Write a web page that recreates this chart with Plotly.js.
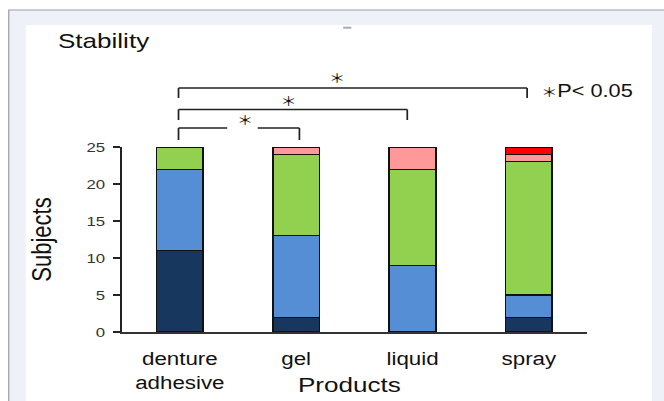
<!DOCTYPE html>
<html>
<head>
<meta charset="utf-8">
<script src="https://cdn.plot.ly/plotly-3.0.1.min.js"></script>
<style>
html,body{margin:0;padding:0;background:#fff;overflow:hidden;}
#wrap{width:664px;height:401px;overflow:hidden;position:relative;}
#plot{width:535px;height:401px;transform:scaleX(1.2411);transform-origin:0 0;}
</style>
</head>
<body>
<div id="wrap"><div id="plot"></div></div>
<script>
// Data
var products = ["denture<br>adhesive", "gel", "liquid", "spray"];
var level1 = [11, 2, 0, 2];
var level2 = [11, 11, 9, 3];
var level3 = [3, 11, 13, 18];
var level4 = [0, 1, 3, 1];
var level5 = [0, 0, 0, 1];
var yTicks = [0, 5, 10, 15, 20, 25];
var seriesNames = ["Level 1", "Level 2", "Level 3", "Level 4", "Level 5"];
var seriesColors = ["#17375E", "#558ED5", "#92D050", "#FF9999", "#FF0000"];
var seriesValues = [level1, level2, level3, level4, level5];

var FONT = "Liberation Sans, Arial, sans-serif";
var STARFONT = "Noto Sans CJK JP, DejaVu Sans";

var traces = seriesValues.map(function (vals, i) {
  return {
    type: "bar",
    x: products,
    y: vals,
    name: seriesNames[i],
    width: 0.4,
    marker: {color: seriesColors[i], line: {color: "#111", width: 1.3}},
    showlegend: false,
    hoverinfo: "none"
  };
});

function hline(x0, x1, y) {
  return {type: "line", xref: "x", yref: "paper", x0: x0, x1: x1, y0: y, y1: y,
          line: {color: "#222", width: 1.4}};
}
function vline(x, y0, y1) {
  return {type: "line", xref: "x", yref: "paper", x0: x, x1: x, y0: y0, y1: y1,
          line: {color: "#222", width: 1.4}};
}

var shapes = [
  {type: "rect", xref: "paper", yref: "paper", x0: -0.2425, x1: 1.3, y0: 1.7405, y1: -0.5,
   fillcolor: "#EFF1F8", line: {color: "#9C9CA4", width: 1}, layer: "below"},
  {type: "rect", xref: "paper", yref: "paper", x0: -0.206, x1: 1.1395, y0: 1.6595, y1: -0.6,
   fillcolor: "#FFFFFF", line: {width: 0}, layer: "below"},
  {type: "line", xref: "paper", yref: "paper", x0: 0.476, x1: 0.4936, y0: 1.645, y1: 1.645,
   line: {color: "#A8AAB8", width: 2}, layer: "below"},
  // top bracket
  hline(-0.011, 2.985, 1.3189), vline(-0.011, 1.3189, 1.2649), vline(2.985, 1.3189, 1.2649),
  // middle bracket
  hline(-0.011, 1.955, 1.2027), vline(-0.011, 1.2027, 1.1459), vline(1.955, 1.2027, 1.1459),
  // bottom bracket (with gap)
  hline(-0.011, 0.407, 1.1027), hline(0.670, 1.028, 1.1027),
  vline(-0.011, 1.1027, 1.0378), vline(1.028, 1.1027, 1.0378)
];

function star(x, y) {
  return {xref: "x", yref: "paper", x: x, y: y, text: "＊", showarrow: false,
          xanchor: "center", yanchor: "middle",
          font: {family: STARFONT, size: 13, color: "#111"}};
}

var annotations = [
  star(1.354, 1.373), star(0.931, 1.254), star(0.556, 1.15),
  {xref: "paper", yref: "paper", x: 0.895, y: 1.3027,
   text: "<span style=\"font-family:'Noto Sans CJK JP';font-size:13px\">＊</span>P< 0.05",
   showarrow: false, xanchor: "left", yanchor: "middle",
   font: {family: FONT, size: 17.5, color: "#111"}},
  {xref: "paper", yref: "paper", x: 0.49, y: -0.286, text: "Products", showarrow: false,
   xanchor: "center", yanchor: "middle", font: {family: FONT, size: 21, color: "#111"}}
];

var layout = {
  width: 535,
  height: 401,
  margin: {l: 97.5, r: 62, t: 147, b: 69, pad: 0},
  paper_bgcolor: "#FFFFFF",
  plot_bgcolor: "rgba(0,0,0,0)",
  barmode: "stack",
  font: {family: FONT, color: "#111"},
  title: {text: "Stability", x: 0.0873, xref: "container", xanchor: "left",
          y: 0.8978, yref: "container", yanchor: "middle",
          font: {family: FONT, size: 21, color: "#111"}},
  xaxis: {
    type: "category",
    range: [-0.5, 3.5],
    showgrid: false,
    zeroline: false,
    showline: true,
    linecolor: "#333",
    linewidth: 1.6,
    ticks: "",
    ticklabelstandoff: 10,
    tickfont: {family: FONT, size: 18, color: "#111"},
    fixedrange: true
  },
  yaxis: {
    range: [0, 25],
    tickvals: yTicks,
    ticktext: yTicks.map(String),
    showgrid: false,
    zeroline: false,
    showline: true,
    linecolor: "#222",
    linewidth: 1.6,
    ticks: "outside",
    ticklen: 5,
    tickwidth: 1.4,
    tickcolor: "#222",
    ticklabelstandoff: 4,
    tickfont: {family: FONT, size: 13.5, color: "#333"},
    title: {text: "Subjects", standoff: 22, font: {family: FONT, size: 22, color: "#111"}},
    fixedrange: true
  },
  shapes: shapes,
  annotations: annotations
};

Plotly.newPlot("plot", traces, layout, {staticPlot: true, displayModeBar: false});
</script>
</body>
</html>
